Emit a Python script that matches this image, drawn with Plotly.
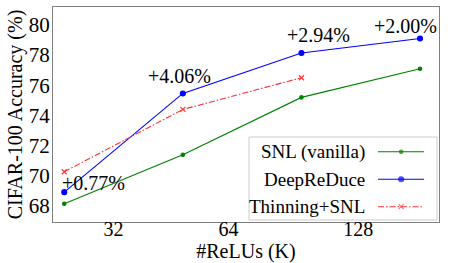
import plotly.graph_objects as go

# ---- data ----
x_pos = [0, 1, 2, 3]                      # evenly spaced ReLU budgets
snl_vanilla = [68.15, 71.40, 75.20, 77.10]
deepreduce = [68.92, 75.46, 78.14, 79.10]
thinning_snl = [70.27, 74.40, 76.50]
gains = ["+0.77%", "+4.06%", "+2.94%", "+2.00%"]
tick_pos = [0.415, 1.385, 2.48]
tick_labels = ["32", "64", "128"]
y_ticks = [68, 70, 72, 74, 76, 78, 80]

series_names = ["SNL (vanilla)", "DeepReDuce", "Thinning+SNL"]
colors = ["#008000", "#0000ff", "#ff3030"]
symbols = ["circle", "circle", "x-thin"]
msizes = [3.5, 5, 5]
dashes = ["solid", "solid", "6px,2px,1.5px,2px"]

FONT = "Liberation Serif"

fig = go.Figure()
ys = [snl_vanilla, deepreduce, thinning_snl]
for name, y, c, s, ms, d in zip(series_names, ys, colors, symbols, msizes, dashes):
    fig.add_trace(go.Scatter(
        x=x_pos[:len(y)], y=y, name=name, mode="lines+markers",
        line=dict(color=c, width=1.1, dash=d),
        marker=dict(color=c, symbol=s, size=ms, line=dict(color=c, width=1.1)),
        showlegend=False, xaxis="x", yaxis="y"))

# gain annotations relative to DeepReDuce points
offsets = [(-4, 9, "left"), (-3, 17, "center"), (17, 18, "center"), (-15, 13, "center")]
for xi, yi, txt, (dx, dy, anc) in zip(x_pos, deepreduce, gains, offsets):
    fig.add_annotation(x=xi, y=yi, xref="x", yref="y", text=txt, showarrow=False,
                       xanchor=anc, yanchor="middle", xshift=dx, yshift=dy,
                       font=dict(family=FONT, size=20, color="black"))

# ---- manual legend (text left, sample right, like matplotlib markerfirst=False) ----
W, H = 386, 215
def px(xp): return (xp - 53) / W
def py(yp): return (222 - yp) / H

fig.add_shape(type="rect", xref="paper", yref="paper",
              x0=px(249), x1=px(437), y0=py(220), y1=py(137),
              line=dict(color="#cccccc", width=1), fillcolor="white", layer="below")
rows = [py(151.7), py(179.3), py(206.7)]
for name, c, s, ms, d, r in zip(series_names, colors, symbols, msizes, dashes, rows):
    fig.add_annotation(x=px(367), y=r, xref="paper", yref="paper", text=name,
                       showarrow=False, xanchor="right", yanchor="middle",
                       font=dict(family=FONT, size=19, color="black"))
    fig.add_trace(go.Scatter(
        x=[0, 0.5, 1], y=[r, r, r], mode="lines+markers", showlegend=False,
        hoverinfo="skip",
        line=dict(color=c, width=1.1, dash=d),
        marker=dict(color=c, symbol=s, size=[0, ms, 0], line=dict(color=c, width=1.1)),
        xaxis="x2", yaxis="y2"))

fig.update_layout(
    width=450, height=263,
    margin=dict(l=53, r=11, t=7, b=41, autoexpand=False),
    paper_bgcolor="white", plot_bgcolor="rgba(0,0,0,0)",
    font=dict(family=FONT, size=20, color="black"),
    xaxis=dict(range=[-0.095, 3.16], tickvals=tick_pos, ticktext=tick_labels,
               showgrid=False, zeroline=False, showline=True, mirror=True,
               linecolor="#808080", linewidth=1, ticks="", automargin=False,
               ticklabelstandoff=-11,
               title=dict(text="#ReLUs (K)", standoff=9,
                          font=dict(family=FONT, size=20)),
               tickfont=dict(family=FONT, size=20)),
    yaxis=dict(range=[66.94, 81.19], tickvals=y_ticks, automargin=False,
               showgrid=False, zeroline=False, showline=True, mirror=True,
               linecolor="#808080", linewidth=1, ticks="",
               ticklabelstandoff=-2,
               title=dict(text="CIFAR-100 Accuracy (%)", standoff=0,
                          font=dict(family=FONT, size=20)),
               tickfont=dict(family=FONT, size=21)),
    xaxis2=dict(domain=[px(378), px(424.3)], range=[0, 1], visible=False,
                anchor="y2", fixedrange=True),
    yaxis2=dict(domain=[0, 1], range=[0, 1], visible=False, anchor="x2",
                fixedrange=True),
)

fig.write_html("out.html", config={"displayModeBar": False},
               post_script="document.body.style.margin='0';document.body.style.overflow='hidden';")
